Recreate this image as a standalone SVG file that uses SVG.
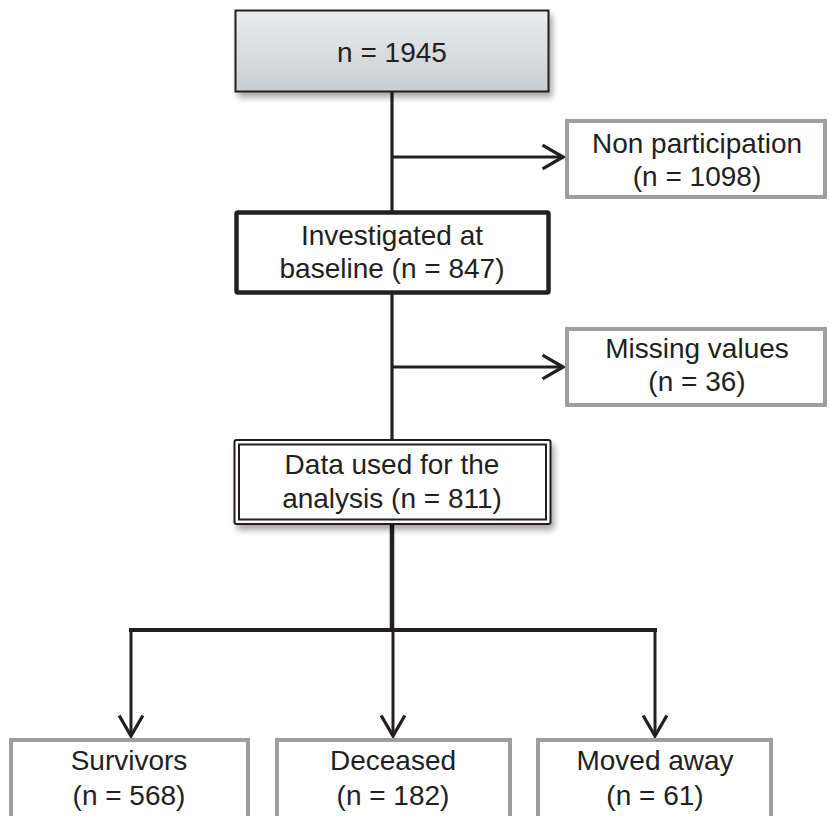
<svg xmlns="http://www.w3.org/2000/svg" width="830" height="816" viewBox="0 0 830 816">
<defs>
<linearGradient id="g" x1="0" y1="0" x2="0" y2="1">
<stop offset="0" stop-color="#ebeced"/>
<stop offset="1" stop-color="#cccdcf"/>
</linearGradient>
<filter id="sh" x="-10%" y="-20%" width="125%" height="150%">
<feGaussianBlur in="SourceAlpha" stdDeviation="3"/>
<feOffset dx="3" dy="5" result="b"/>
<feComponentTransfer><feFuncA type="linear" slope="0.35"/></feComponentTransfer>
<feMerge><feMergeNode/><feMergeNode in="SourceGraphic"/></feMerge>
</filter>
<marker id="ah" markerWidth="26" markerHeight="28" viewBox="-21 -13 23 26" refX="0" refY="0" orient="auto" markerUnits="userSpaceOnUse">
<path d="M-19,-11 L0,0 L-19,11" fill="none" stroke="#231f20" stroke-width="3"/>
</marker>
</defs>
<style>
text{font-family:"Liberation Sans",Arial,sans-serif;font-size:28px;fill:#231f20;text-anchor:middle}
.gray{fill:#fff;stroke:#9d9ea0;stroke-width:4}
.ln{stroke:#231f20;fill:none}
</style>
<rect width="830" height="816" fill="#fff"/>
<g id="connectors">
<line class="ln" x1="392" y1="92" x2="392" y2="212" stroke-width="3.2"/>
<line class="ln" x1="392" y1="157" x2="563" y2="157" stroke-width="3" marker-end="url(#ah)"/>
<line class="ln" x1="392" y1="293" x2="392" y2="440" stroke-width="3.2"/>
<line class="ln" x1="392" y1="367" x2="563" y2="367" stroke-width="3" marker-end="url(#ah)"/>
<line class="ln" x1="392" y1="524" x2="392" y2="630" stroke-width="4.5"/>
<line class="ln" x1="129" y1="630" x2="657" y2="630" stroke-width="3.8"/>
<line class="ln" x1="131" y1="630" x2="131" y2="736" stroke-width="3" marker-end="url(#ah)"/>
<line class="ln" x1="393" y1="630" x2="393" y2="736" stroke-width="3" marker-end="url(#ah)"/>
<line class="ln" x1="655" y1="630" x2="655" y2="736" stroke-width="3" marker-end="url(#ah)"/>
</g>
<g id="n-total">
<rect x="235.5" y="10.5" width="313" height="81" fill="url(#g)" stroke="#231f20" stroke-width="2" filter="url(#sh)"/>
<text x="392" y="62">n = 1945</text>
</g>
<g id="non-participation">
<rect class="gray" x="567" y="121" width="258" height="76"/>
<text x="697" y="153">Non participation</text>
<text x="697" y="186">(n = 1098)</text>
</g>
<g id="investigated">
<rect x="236.5" y="212.5" width="312" height="80" fill="#fff" stroke="#231f20" stroke-width="4.5" rx="1.5"/>
<text x="392" y="245">Investigated at</text>
<text x="392" y="278">baseline (n = 847)</text>
</g>
<g id="missing">
<rect class="gray" x="567" y="329" width="258" height="76"/>
<text x="697" y="358">Missing values</text>
<text x="697" y="391">(n = 36)</text>
</g>
<g id="data-used">
<rect x="234.5" y="440" width="316" height="84" fill="#fff" stroke="#231f20" stroke-width="2" rx="2" filter="url(#sh)"/>
<rect x="239" y="444.5" width="307" height="75" fill="none" stroke="#231f20" stroke-width="2"/>
<text x="392" y="474">Data used for the</text>
<text x="392" y="508">analysis (n = 811)</text>
</g>
<g id="survivors">
<rect class="gray" x="11" y="740" width="237" height="90"/>
<text x="129" y="770">Survivors</text>
<text x="129" y="805">(n = 568)</text>
</g>
<g id="deceased">
<rect class="gray" x="277" y="740" width="233" height="90"/>
<text x="393" y="770">Deceased</text>
<text x="393" y="805">(n = 182)</text>
</g>
<g id="moved-away">
<rect class="gray" x="538" y="740" width="233" height="90"/>
<text x="655" y="770">Moved away</text>
<text x="655" y="805">(n = 61)</text>
</g>
</svg>
